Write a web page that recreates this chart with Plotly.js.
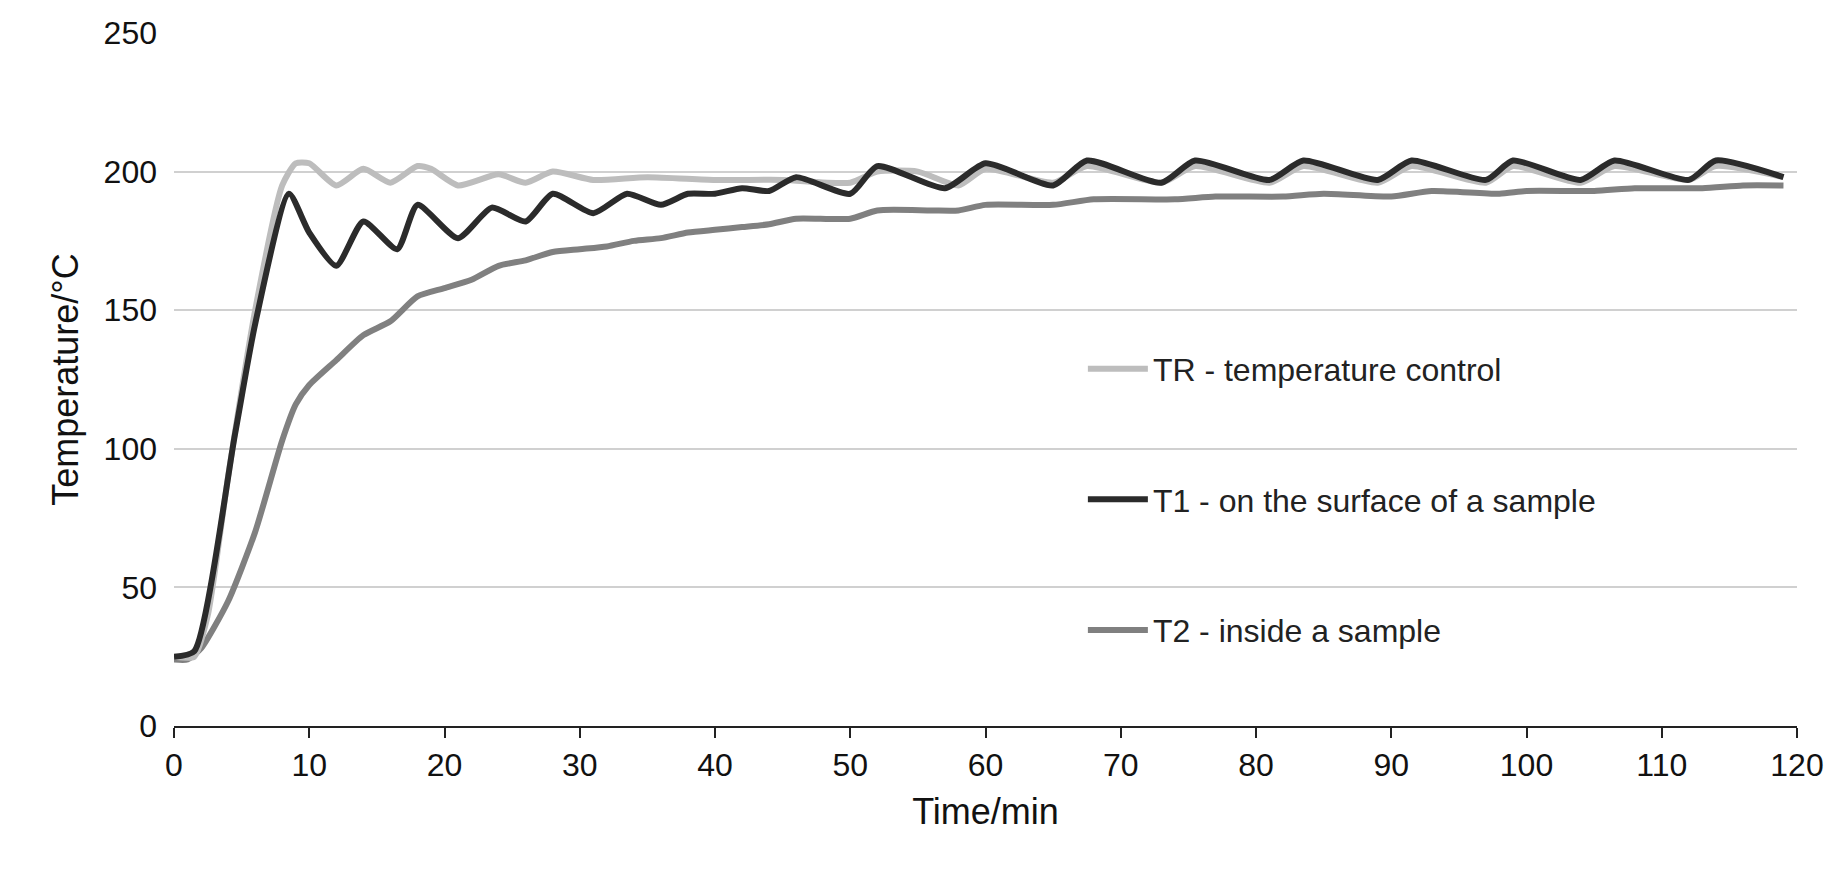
<!DOCTYPE html>
<html>
<head>
<script src="https://cdn.plot.ly/plotly-3.0.1.min.js"></script>
<style>body{margin:0;background:#fff}</style>
</head>
<body>
<div id="chart" style="width:1842px;height:870px"></div>
<script>
// TR - temperature control
const trTime = [0, 1.5, 2.5, 4, 6, 8, 9, 10, 12, 14, 16, 18, 19, 21, 24, 26, 28, 31, 35, 40, 45, 50, 52, 55, 58, 60, 65, 67.5, 73, 75.5, 81, 83.5, 89, 91.5, 97, 99, 104, 106.5, 112, 114, 119];
const trTemp = [25, 25, 40, 90, 150, 195, 203, 203, 195, 201, 196, 202, 201, 195, 199, 196, 200, 197, 198, 197, 197, 196, 200, 200, 195, 201, 196, 202, 196, 202, 196, 202, 196, 202, 196, 202, 196, 202, 197, 202, 198];
// T1 - on the surface of a sample
const t1Time = [0, 1.5, 4.5, 6, 8.5, 10, 12, 14, 16.5, 18, 21, 23.5, 26, 28, 31, 33.5, 36, 38, 40, 42, 44, 46, 50, 52, 57, 60, 65, 67.5, 73, 75.5, 81, 83.5, 89, 91.5, 97, 99, 104, 106.5, 112, 114, 119];
const t1Temp = [25, 27, 105, 145, 192, 178, 166, 182, 172, 188, 176, 187, 182, 192, 185, 192, 188, 192, 192, 194, 193, 198, 192, 202, 194, 203, 195, 204, 196, 204, 197, 204, 197, 204, 197, 204, 197, 204, 197, 204, 198];
// T2 - inside a sample
const t2Time = [0, 1, 2, 4, 6, 8, 9, 10, 12, 14, 16, 18, 20, 22, 24, 26, 28, 30, 32, 34, 36, 38, 40, 42, 44, 46, 50, 52, 56, 58, 60, 65, 68, 74, 77, 82, 85, 90, 93, 98, 100, 105, 108, 113, 116, 119];
const t2Temp = [24, 24, 28, 45, 70, 103, 116, 123, 132, 141, 146, 155, 158, 161, 166, 168, 171, 172, 173, 175, 176, 178, 179, 180, 181, 183, 183, 186, 186, 186, 188, 188, 190, 190, 191, 191, 192, 191, 193, 192, 193, 193, 194, 194, 195, 195];

const mk = (x, y, name, color, rank) => ({
  x: x, y: y, name: name, type: 'scatter', mode: 'lines', legendgroup: name, legendrank: rank,
  line: { color: color, width: 6, shape: 'spline', smoothing: 0.6 }
});
const data = [
  mk(t2Time, t2Temp, 'T2 - inside a sample', '#808080', 3),
  mk(trTime, trTemp, 'TR - temperature control', '#bdbdbd', 1),
  mk(t1Time, t1Temp, 'T1 - on the surface of a sample', '#2b2b2b', 2)
];
const layout = {
  width: 1842, height: 870,
  margin: { l: 174, r: 45, t: 33, b: 144 },
  paper_bgcolor: '#fff', plot_bgcolor: '#fff',
  font: { family: 'Liberation Sans, Arial, sans-serif', color: '#111', size: 32 },
  xaxis: {
    range: [0, 120], tickvals: [0,10,20,30,40,50,60,70,80,90,100,110,120],
    showgrid: false, zeroline: false, showline: true, linecolor: '#222', linewidth: 2,
    ticks: 'outside', ticklen: 10, tickwidth: 2, tickcolor: '#222',
    title: { text: 'Time/min', font: { size: 36 }, standoff: 16 }
  },
  yaxis: {
    range: [0, 250], tickvals: [0, 50, 100, 150, 200, 250],
    showgrid: true, gridcolor: '#d0d0d0', gridwidth: 2, zeroline: false, showline: false,
    ticks: '', ticklabelstandoff: 16,
    title: { text: 'Temperature/°C', font: { size: 36 }, standoff: 14 }
  },
  showlegend: true,
  legend: {
    x: 0.56, y: 0.555, xanchor: 'left', yanchor: 'top',
    traceorder: 'grouped', tracegroupgap: 86, font: { size: 32, color: '#222' },
    bgcolor: 'rgba(0,0,0,0)', itemwidth: 60
  }
};
Plotly.newPlot('chart', data, layout, { displayModeBar: false });
</script>
</body>
</html>
